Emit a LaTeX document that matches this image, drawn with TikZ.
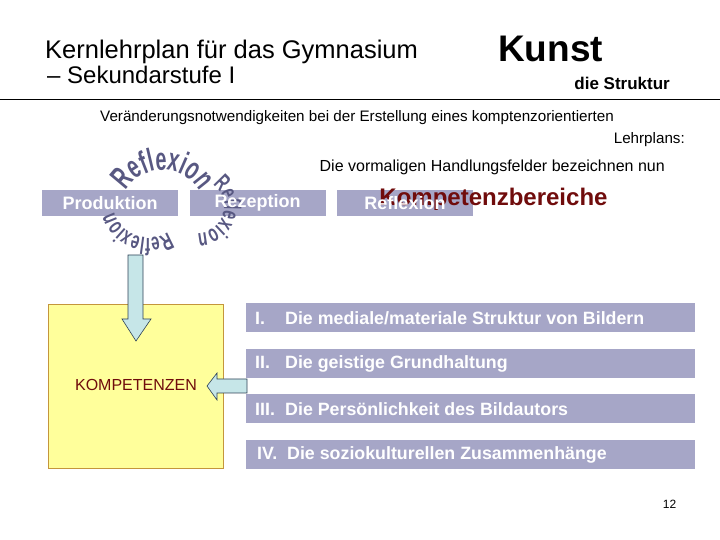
\documentclass[tikz,border=0pt]{standalone}
\usepackage{fontspec}
\setmainfont{Liberation Sans}
\newfontfamily\wordartfont[FakeStretch=0.62]{Liberation Sans}
\usepackage{tikz}
\usetikzlibrary{positioning}
\usetikzlibrary{decorations.text}

\definecolor{barblue}{RGB}{166,166,199}
\definecolor{darkred}{RGB}{112,12,12}
\definecolor{paleyellow}{RGB}{255,255,155}
\definecolor{boxedge}{RGB}{196,150,60}
\definecolor{arrowfill}{RGB}{198,230,232}
\definecolor{arrowedge}{RGB}{45,65,85}
\definecolor{wordartfill}{RGB}{88,88,130}

\tikzset{
	catbox/.style={fill=barblue, minimum width=136pt, minimum height=26pt, inner sep=0pt},
	catlabel/.style={text=white, font=\bfseries\fontsize{18}{18}\selectfont, inner sep=0pt},
	areabar/.style={fill=barblue, minimum width=449pt, minimum height=29pt, inner sep=0pt, anchor=west},
	arealabel/.style={text=white, font=\bfseries\fontsize{17.8}{18}\selectfont, inner sep=0pt, anchor=west},
	blockarrow/.style={fill=arrowfill, draw=arrowedge, line width=0.6pt},
	arcword/.style={decorate, decoration={text along path, text align=center, text color=wordartfill,
		text format delimiters={|}{|}, text={|\wordartfont\bfseries\fontsize{#1}{#1}\selectfont|Reflexion}}}
}

\begin{document}
\begin{tikzpicture}[x=1pt,y=1pt]
		\useasboundingbox (0,0) rectangle (720,540);
		
		\node[anchor=west, inner sep=0pt, font=\fontsize{25.5}{25}\selectfont] (title) at (45,488) {Kernlehrplan für das Gymnasium};
		\node[anchor=west, inner sep=0pt, font=\fontsize{24}{24}\selectfont] (subtitle) at (47,465) {-- Sekundarstufe I};
		\node[anchor=west, inner sep=0pt, font=\bfseries\fontsize{37}{37}\selectfont] (kunst) at (498,491) {Kunst};
		\node[anchor=east, inner sep=0pt, font=\bfseries\fontsize{17}{17}\selectfont] (struktur) at (670,457) {die Struktur};
		\draw (0,441) -- (720,441);
		
		\node[anchor=west, inner sep=0pt, font=\fontsize{15.2}{16}\selectfont] (intro) at (100,422) {Veränderungsnotwendigkeiten bei der Erstellung eines komptenzorientierten};
		\node[anchor=east, inner sep=0pt, font=\fontsize{15.2}{16}\selectfont] (introend) at (685,400) {Lehrplans:};
		\node[anchor=east, inner sep=0pt, font=\fontsize{16}{16}\selectfont] (lead) at (665,373) {Die vormaligen Handlungsfelder bezeichnen nun};
		
		\node[catbox] (prod) at (110,337) {};
		\node[catbox] (rez) at (257.5,337) {};
		\node[catbox] (refl) at (405,337) {};
		
		\path[arcword=32] (163,327) ++(165:43) arc[start angle=165, end angle=15, radius=43];
		\path[arcword=24] (198,333) ++(75:26) arc[start angle=75, end angle=-110, radius=26];
		\path[arcword=24] (148,337) ++(-35:35) arc[start angle=-35, end angle=-185, radius=35];
		
		\node[inner sep=0pt, text=darkred, font=\bfseries\fontsize{24}{24}\selectfont] (bereiche) at (493.5,341) {Kompetenzbereiche};
		\node[catlabel] (prodlabel) at (prod) {Produktion};
		\node[catlabel] (rezlabel) at (rez) {Rezeption};
		\node[catlabel] (refllabel) at (refl) {Reflexion};
		
		\draw[fill=paleyellow, draw=boxedge] (48,72) rectangle (223,236);
		\node[text=darkred, font=\fontsize{16}{16}\selectfont] (kompetenzen) at (136,155) {KOMPETENZEN};
		\draw[blockarrow] (128,285) -- (143,285) -- (143,221) -- (151,221) -- (136,199) -- (122,221) -- (128,221) -- cycle;
		\draw[blockarrow] (247,161) -- (217,161) -- (217,167) -- (207,154) -- (217,140) -- (217,147) -- (247,147) -- cycle;
		
		\node[areabar] (area1) at (246,222) {};
		\node[areabar] (area2) at (246,176.5) {};
		\node[areabar] (area3) at (246,131) {};
		\node[areabar] (area4) at (246,85.5) {};
		\node[arealabel] (arealabel1) at ([xshift=9pt]area1.west) {\makebox[30pt][l]{I.}Die mediale/materiale Struktur von Bildern};
		\node[arealabel] (arealabel2) at ([xshift=9pt]area2.west) {\makebox[30pt][l]{II.}Die geistige Grundhaltung};
		\node[arealabel] (arealabel3) at ([xshift=9pt]area3.west) {\makebox[30pt][l]{III.}Die Persönlichkeit des Bildautors};
		\node[arealabel] (arealabel4) at ([xshift=11pt]area4.west) {\makebox[30pt][l]{IV.}Die soziokulturellen Zusammenhänge};
		
		\node[font=\fontsize{12}{12}\selectfont] (pagenum) at (669.5,36) {12};
	\end{tikzpicture}
\end{document}
